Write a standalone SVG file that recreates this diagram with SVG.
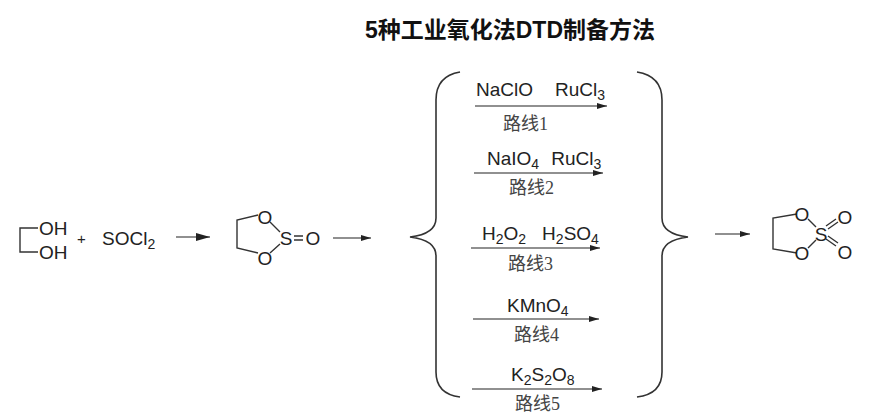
<svg xmlns="http://www.w3.org/2000/svg" width="869" height="419" viewBox="0 0 869 419">
<defs>
<marker id="ah" viewBox="0 0 10 6" refX="10" refY="3" markerWidth="10" markerHeight="6" markerUnits="userSpaceOnUse" orient="auto"><path d="M0,0 L10,3 L0,6 z" fill="#222"/></marker>
<marker id="ah2" viewBox="0 0 14 8" refX="14" refY="4" markerWidth="14" markerHeight="8" markerUnits="userSpaceOnUse" orient="auto"><path d="M0,0 L14,4 L0,8 z" fill="#222"/></marker>
</defs>
<style>
.t{font-family:"Liberation Sans",Arial,sans-serif;font-size:19px;fill:#222}
.s{font-size:14px}
.c{font-family:"Liberation Serif","Noto Sans CJK SC",serif;font-size:18px;fill:#444}
.b{fill:none;stroke:#333;stroke-width:1.6}
.l{fill:none;stroke:#333;stroke-width:1.4}
</style>
<rect width="869" height="419" fill="#fff"/>
<text x="510" y="38" text-anchor="middle" style="font-family:'Liberation Sans','Noto Sans CJK SC',sans-serif;font-size:23px;font-weight:bold;fill:#111">5种工业氧化法DTD制备方法</text>
<g id="glycol">
<path class="l" d="M38,228 H20 V252 H38"/>
<text class="t" x="39" y="235">OH</text>
<text class="t" x="39" y="259">OH</text>
</g>
<g id="plus"><text class="t" x="77" y="244" style="font-size:15px">+</text></g>
<g id="socl2"><text class="t" x="102" y="245">SOCl<tspan class="s" dy="4">2</tspan></text></g>
<g id="sulfite">
<path class="l" d="M258,215 L237,220 V248 L258,253 M270,222 L280,232 M270,253 L280,244 M294,236 H303 M294,240 H303"/>
<text class="t" x="265" y="224" text-anchor="middle">O</text>
<text class="t" x="265" y="265" text-anchor="middle">O</text>
<text class="t" x="286" y="245" text-anchor="middle">S</text>
<text class="t" x="313" y="245" text-anchor="middle">O</text>
</g>
<g id="sulfate">
<path class="l" d="M797,214 L773,218 V249 L797,253 M808,219 L816,227 M808,248 L816,240 M826,226 L836,219 M828,229 L838,222 M826,239 L836,246 M828,236 L838,243"/>
<text class="t" x="802" y="221" text-anchor="middle">O</text>
<text class="t" x="802" y="260" text-anchor="middle">O</text>
<text class="t" x="821" y="241" text-anchor="middle">S</text>
<text class="t" x="845" y="224" text-anchor="middle">O</text>
<text class="t" x="845" y="259" text-anchor="middle">O</text>
</g>
<g id="braces">
<path class="b" d="M460,72 Q436,76 436,100 V218 Q436,234 410,237 Q436,240 436,256 V372 Q436,394 460,397"/>
<path class="b" d="M637,72 Q662,76 662,100 V218 Q662,234 688,237 Q662,240 662,256 V372 Q662,394 637,397"/>
</g>
<g id="routes">
<text class="t" x="476" y="96">NaClO<tspan dx="22">RuCl</tspan><tspan class="s" dy="4">3</tspan></text>
<text class="c" x="503" y="130">路线1</text>
<text class="t" x="487" y="165">NaIO<tspan class="s" dy="4">4</tspan><tspan dx="12" dy="-4">RuCl</tspan><tspan class="s" dy="4">3</tspan></text>
<text class="c" x="509" y="194">路线2</text>
<text class="t" x="482" y="240">H<tspan class="s" dy="4">2</tspan><tspan dy="-4">O</tspan><tspan class="s" dy="4">2</tspan><tspan dx="16" dy="-4">H</tspan><tspan class="s" dy="4">2</tspan><tspan dy="-4">SO</tspan><tspan class="s" dy="4">4</tspan></text>
<text class="c" x="508" y="270">路线3</text>
<text class="t" x="507" y="312">KMnO<tspan class="s" dy="4">4</tspan></text>
<text class="c" x="514" y="341">路线4</text>
<text class="t" x="511" y="381">K<tspan class="s" dy="4">2</tspan><tspan dy="-4">S</tspan><tspan class="s" dy="4">2</tspan><tspan dy="-4">O</tspan><tspan class="s" dy="4">8</tspan></text>
<text class="c" x="515" y="410">路线5</text>
</g>
<g id="connectors" stroke="#222" stroke-width="1.2">
<line x1="176" y1="237" x2="210" y2="237" marker-end="url(#ah2)"/>
<line x1="333" y1="238" x2="371" y2="238" marker-end="url(#ah)"/>
<line x1="715" y1="234" x2="750" y2="234" marker-end="url(#ah)"/>
<line x1="475" y1="106" x2="607" y2="106" marker-end="url(#ah)"/>
<line x1="474" y1="173" x2="603" y2="173" marker-end="url(#ah)"/>
<line x1="471" y1="248" x2="600" y2="248" marker-end="url(#ah)"/>
<line x1="473" y1="319" x2="599" y2="319" marker-end="url(#ah)"/>
<line x1="472" y1="389" x2="602" y2="389" marker-end="url(#ah)"/>
</g>
</svg>
